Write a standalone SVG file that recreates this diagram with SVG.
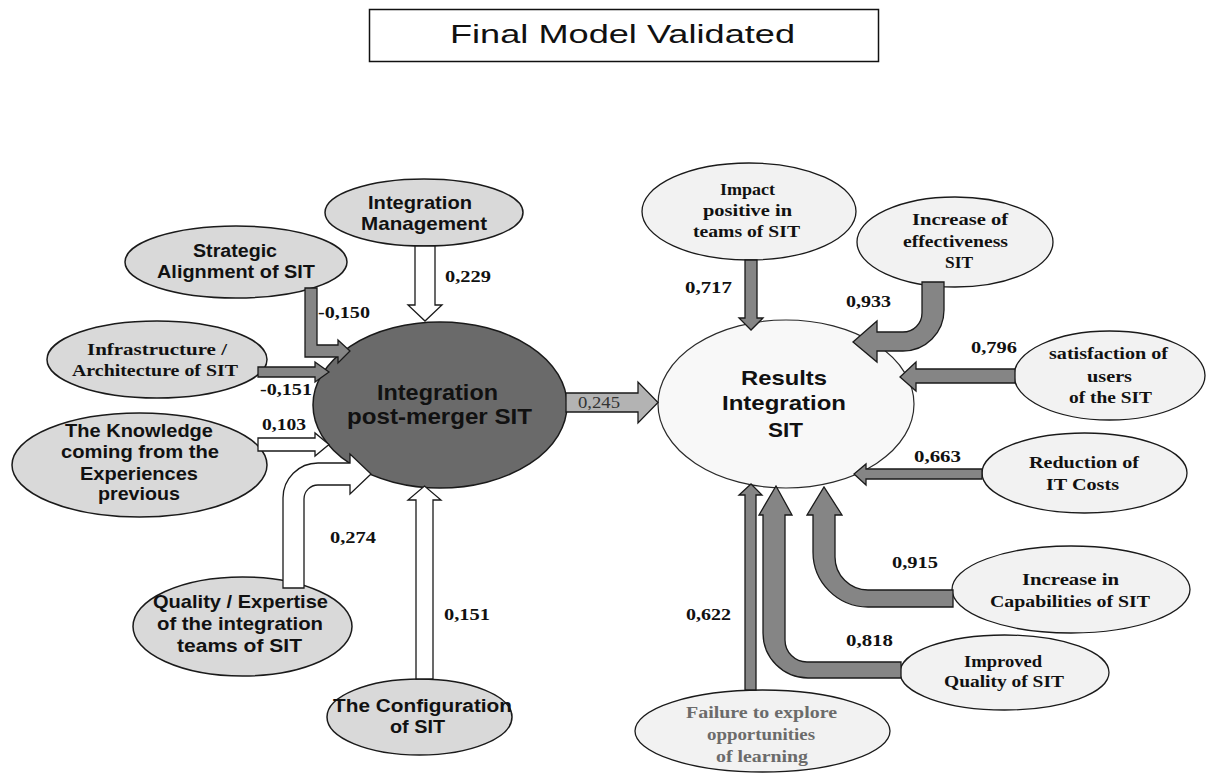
<svg xmlns="http://www.w3.org/2000/svg" width="1207" height="776" viewBox="0 0 1207 776">
<style>
.bg{fill:#ffffff}
.nl{fill:#d9d9d9;stroke:#1a1a1a;stroke-width:1.5}
.nr{fill:#f2f2f2;stroke:#1a1a1a;stroke-width:1.3}
.nd{fill:#6a6a6a;stroke:#1a1a1a;stroke-width:1.5}
.nres{fill:#f8f8f8;stroke:#2a2a2a;stroke-width:1.2}
.ss{font-family:"Liberation Sans",Arial,sans-serif;font-weight:bold;fill:#111}
.sf{font-family:"Liberation Serif","Times New Roman",serif;font-weight:bold;fill:#111}
.sfg{font-family:"Liberation Serif","Times New Roman",serif;font-weight:bold;fill:#6b6b6b}
.lbl{font-family:"Liberation Serif","Times New Roman",serif;font-weight:bold;font-size:17.5px;fill:#111}
.ga{fill:#858585;stroke:#1a1a1a;stroke-width:1.3;stroke-linejoin:miter}
.wa{fill:#ffffff;stroke:#1a1a1a;stroke-width:1.3;stroke-linejoin:miter}
.la{fill:#b3b3b3;stroke:#1a1a1a;stroke-width:1.3}
</style>
<rect class="bg" x="0" y="0" width="1207" height="776"/>

<g id="title">
<rect x="369.5" y="9.5" width="509" height="52" fill="#fff" stroke="#111" stroke-width="1.5"/>
<text x="450" y="43" font-family="Liberation Sans, Arial, sans-serif" font-size="26" fill="#111" textLength="345" lengthAdjust="spacingAndGlyphs">Final Model Validated</text>
</g>

<g id="node-integration-management">
<ellipse class="nl" cx="424" cy="212.5" rx="99" ry="33.5"/>
<text class="ss" font-size="19" x="368" y="209" textLength="104" lengthAdjust="spacingAndGlyphs">Integration</text>
<text class="ss" font-size="19" x="361" y="230" textLength="126" lengthAdjust="spacingAndGlyphs">Management</text>
</g>

<g id="node-strategic">
<ellipse class="nl" cx="236" cy="262" rx="111" ry="36"/>
<text class="ss" font-size="18" x="193" y="257" textLength="84" lengthAdjust="spacingAndGlyphs">Strategic</text>
<text class="ss" font-size="18" x="157" y="278" textLength="158" lengthAdjust="spacingAndGlyphs">Alignment of SIT</text>
</g>

<g id="node-infrastructure">
<ellipse class="nl" cx="157" cy="359.5" rx="110" ry="38.5"/>
<text class="sf" font-size="17" x="87" y="355" textLength="140" lengthAdjust="spacingAndGlyphs">Infrastructure  /</text>
<text class="sf" font-size="17" x="72" y="376" textLength="166" lengthAdjust="spacingAndGlyphs">Architecture  of  SIT</text>
</g>

<g id="node-knowledge">
<ellipse class="nl" cx="139.5" cy="465" rx="127.5" ry="52"/>
<text class="ss" font-size="19" x="65" y="437" textLength="148" lengthAdjust="spacingAndGlyphs">The Knowledge</text>
<text class="ss" font-size="19" x="61" y="458" textLength="158" lengthAdjust="spacingAndGlyphs">coming from the</text>
<text class="ss" font-size="19" x="80" y="480" textLength="118" lengthAdjust="spacingAndGlyphs">Experiences</text>
<text class="ss" font-size="19" x="98" y="500" textLength="82" lengthAdjust="spacingAndGlyphs">previous</text>
</g>

<g id="node-quality">
<ellipse class="nl" cx="242.5" cy="626.5" rx="109.5" ry="49.5"/>
<text class="ss" font-size="19" x="153" y="608" textLength="175" lengthAdjust="spacingAndGlyphs">Quality / Expertise</text>
<text class="ss" font-size="19" x="157" y="630" textLength="166" lengthAdjust="spacingAndGlyphs">of the integration</text>
<text class="ss" font-size="19" x="177" y="652" textLength="125" lengthAdjust="spacingAndGlyphs">teams of SIT</text>
</g>

<g id="node-configuration">
<ellipse class="nl" cx="419.5" cy="717" rx="92.5" ry="38"/>
<text class="ss" font-size="18" x="333" y="712" textLength="179" lengthAdjust="spacingAndGlyphs">The Configuration</text>
<text class="ss" font-size="18" x="390" y="733" textLength="55" lengthAdjust="spacingAndGlyphs">of SIT</text>
</g>

<g id="node-integration-post-merger">
<ellipse class="nd" cx="440" cy="405" rx="127" ry="83"/>
<text class="ss" font-size="22" x="377" y="400" textLength="121" lengthAdjust="spacingAndGlyphs">Integration</text>
<text class="ss" font-size="22" x="347" y="424" textLength="185" lengthAdjust="spacingAndGlyphs">post-merger SIT</text>
</g>

<g id="node-results">
<ellipse class="nres" cx="786" cy="404" rx="128" ry="84"/>
<text class="ss" font-size="21" x="741" y="385" textLength="86" lengthAdjust="spacingAndGlyphs">Results</text>
<text class="ss" font-size="21" x="722" y="410" textLength="124" lengthAdjust="spacingAndGlyphs">Integration</text>
<text class="ss" font-size="21" x="768" y="437" textLength="35" lengthAdjust="spacingAndGlyphs">SIT</text>
</g>

<g id="node-impact">
<ellipse class="nr" cx="749" cy="211.5" rx="107" ry="48.5"/>
<text class="sf" font-size="16.5" x="720" y="195" textLength="55" lengthAdjust="spacingAndGlyphs">Impact</text>
<text class="sf" font-size="16.5" x="703" y="216" textLength="89" lengthAdjust="spacingAndGlyphs">positive  in</text>
<text class="sf" font-size="16.5" x="693" y="237" textLength="107" lengthAdjust="spacingAndGlyphs">teams  of SIT</text>
</g>

<g id="node-effectiveness">
<ellipse class="nr" cx="955" cy="242" rx="98" ry="45"/>
<text class="sf" font-size="16.5" x="912" y="225" textLength="96" lengthAdjust="spacingAndGlyphs">Increase  of</text>
<text class="sf" font-size="16.5" x="903" y="247" textLength="105" lengthAdjust="spacingAndGlyphs">effectiveness</text>
<text class="sf" font-size="16.5" x="945" y="268" textLength="28" lengthAdjust="spacingAndGlyphs">SIT</text>
</g>

<g id="node-satisfaction">
<ellipse class="nr" cx="1109.5" cy="375.5" rx="95.5" ry="44.5"/>
<text class="sf" font-size="16.5" x="1049" y="359" textLength="119" lengthAdjust="spacingAndGlyphs">satisfaction  of</text>
<text class="sf" font-size="16.5" x="1087" y="382" textLength="45" lengthAdjust="spacingAndGlyphs">users</text>
<text class="sf" font-size="16.5" x="1069" y="403" textLength="83" lengthAdjust="spacingAndGlyphs">of the  SIT</text>
</g>

<g id="node-reduction">
<ellipse class="nr" cx="1084.5" cy="473" rx="102.5" ry="40"/>
<text class="sf" font-size="16.5" x="1029" y="468" textLength="110" lengthAdjust="spacingAndGlyphs">Reduction  of</text>
<text class="sf" font-size="16.5" x="1046" y="490" textLength="73" lengthAdjust="spacingAndGlyphs">IT  Costs</text>
</g>

<g id="node-capabilities">
<ellipse class="nr" cx="1071" cy="589.5" rx="119" ry="43.5"/>
<text class="sf" font-size="16.5" x="1022" y="585" textLength="97" lengthAdjust="spacingAndGlyphs">Increase  in</text>
<text class="sf" font-size="16.5" x="990" y="607" textLength="160" lengthAdjust="spacingAndGlyphs">Capabilities  of  SIT</text>
</g>

<g id="node-improved">
<ellipse class="nr" cx="1004.5" cy="672.5" rx="104.5" ry="37.5"/>
<text class="sf" font-size="16.5" x="964" y="667" textLength="78" lengthAdjust="spacingAndGlyphs">Improved</text>
<text class="sf" font-size="16.5" x="944" y="687" textLength="120" lengthAdjust="spacingAndGlyphs">Quality  of  SIT</text>
</g>

<g id="node-failure">
<ellipse class="nr" cx="762.5" cy="731" rx="127.5" ry="41"/>
<text class="sfg" font-size="16.5" x="686" y="718" textLength="151" lengthAdjust="spacingAndGlyphs">Failure to explore</text>
<text class="sfg" font-size="16.5" x="707" y="740" textLength="108" lengthAdjust="spacingAndGlyphs">opportunities</text>
<text class="sfg" font-size="16.5" x="716" y="762" textLength="92" lengthAdjust="spacingAndGlyphs">of learning</text>
</g>

<g id="connectors">
<path class="wa" d="M415,246 L435,246 L435,305 L442,305 L425,321 L408,305 L415,305 Z"/>
<path class="ga" d="M305,288 L317,288 L317,345 L338,345 L338,340 L350,351 L338,363 L338,357 L305,357 Z"/>
<path class="ga" d="M258,367 L315,367 L315,362 L329,372 L315,382 L315,377 L258,377 Z"/>
<path class="wa" d="M258,438 L315,438 L315,433 L329,444.5 L315,456 L315,451 L258,451 Z"/>
<path class="wa" d="M283,588 L283,498 A35,35 0 0 1 318,463 L350,463 L350,454 L371,474 L350,494 L350,485 L318,485 A14,14 0 0 0 304,499 L304,588 Z"/>
<path class="wa" d="M416,679 L416,500 L408,500 L424.5,486 L441,500 L433,500 L433,679 Z"/>
<path class="la" d="M566,393 L638,393 L638,382 L658,402.5 L638,423 L638,412 L566,412 Z"/>
<path class="ga" d="M745,260 L757,260 L757,318 L763,318 L751,330 L739,318 L745,318 Z"/>
<path class="ga" d="M922,282 L944,282 L944,310 A41,41 0 0 1 903,351 L877,351 L877,362 L853,342 L877,321 L877,332 L903,332 A19,19 0 0 0 922,313 Z"/>
<path class="ga" d="M1015,369 L916,369 L916,362 L900,377 L916,391 L916,383 L1015,383 Z"/>
<path class="ga" d="M982,469 L866,469 L866,464 L854,474 L866,485 L866,479 L982,479 Z"/>
<path class="ga" d="M953,590 L953,607 L868,607 A55,55 0 0 1 813,552 L813,515 L807,515 L824,487 L842,515 L835,515 L835,557 A33,33 0 0 0 868,590 Z"/>
<path class="ga" d="M901,662 L901,678 L808,678 A45,45 0 0 1 763,633 L763,515 L759,515 L776,486 L792,515 L785,515 L785,640 A22,22 0 0 0 807,662 Z"/>
<path class="ga" d="M745,690 L745,495 L739,495 L751,484 L762,495 L756,495 L756,690 Z"/>

<text class="lbl" x="318" y="318" textLength="52" lengthAdjust="spacingAndGlyphs">-0,150</text>
<text class="lbl" x="260" y="395" textLength="52" lengthAdjust="spacingAndGlyphs">-0,151</text>
<text class="lbl" x="262" y="430" textLength="44" lengthAdjust="spacingAndGlyphs">0,103</text>
<text class="lbl" x="445" y="282" textLength="46" lengthAdjust="spacingAndGlyphs">0,229</text>
<text class="lbl" x="330" y="543" textLength="46" lengthAdjust="spacingAndGlyphs">0,274</text>
<text class="lbl" x="444" y="620" textLength="46" lengthAdjust="spacingAndGlyphs">0,151</text>
<text x="578" y="408" font-family="Liberation Serif, Times New Roman, serif" font-size="16" fill="#333" textLength="42" lengthAdjust="spacingAndGlyphs">0,245</text>
<text class="lbl" x="685" y="293" textLength="47" lengthAdjust="spacingAndGlyphs">0,717</text>
<text class="lbl" x="846" y="307" textLength="45" lengthAdjust="spacingAndGlyphs">0,933</text>
<text class="lbl" x="971" y="353" textLength="46" lengthAdjust="spacingAndGlyphs">0,796</text>
<text class="lbl" x="914" y="462" textLength="47" lengthAdjust="spacingAndGlyphs">0,663</text>
<text class="lbl" x="892" y="568" textLength="46" lengthAdjust="spacingAndGlyphs">0,915</text>
<text class="lbl" x="846" y="646" textLength="47" lengthAdjust="spacingAndGlyphs">0,818</text>
<text class="lbl" x="686" y="620" textLength="45" lengthAdjust="spacingAndGlyphs">0,622</text>
</g>
</svg>
